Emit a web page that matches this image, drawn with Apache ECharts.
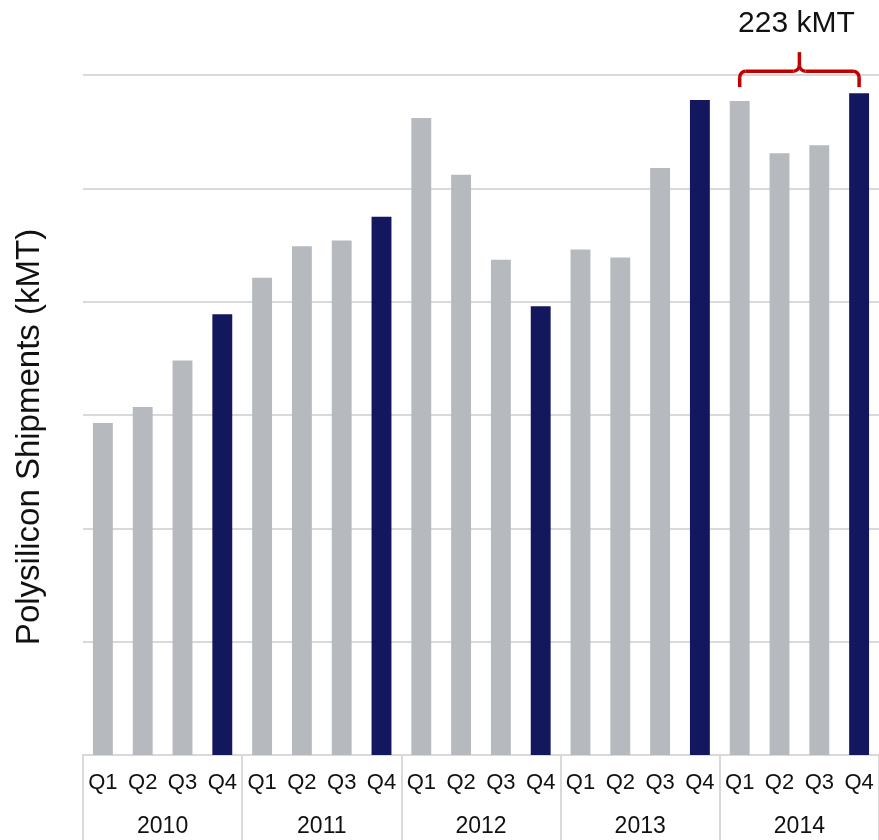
<!DOCTYPE html>
<html>
<head>
<meta charset="utf-8">
<script src="https://cdn.jsdelivr.net/npm/echarts@6/dist/echarts.min.js"></script>
<style>
  html, body { margin: 0; padding: 0; background: #ffffff; }
  #chart { width: 879px; height: 840px; }
</style>
</head>
<body>
<div id="chart"></div>
<script>
// Quarterly polysilicon shipments, kMT
const years = ['2010', '2011', '2012', '2013', '2014'];
const quarters = ['Q1', 'Q2', 'Q3', 'Q4'];
const shipments2010 = [29.3, 30.7, 34.8, 38.9];
const shipments2011 = [42.1, 44.9, 45.4, 47.5];
const shipments2012 = [56.2, 51.2, 43.7, 39.6];
const shipments2013 = [44.6, 43.9, 51.8, 57.8];
const shipments2014 = [57.7, 53.1, 53.8, 58.4];
const yMax = 60;
const yInterval = 10;
const bracketYear = '2014';
const bracketText = '223 kMT';

const FONT = '"Liberation Sans", Arial, Helvetica, sans-serif';
const GREY = '#b6babe';
const NAVY = '#13175d';
const RULE = '#d9d9d9';
const BRACE = '#c00000';

const perYear = [shipments2010, shipments2011, shipments2012, shipments2013, shipments2014];
const categories = [];
const values = [];
years.forEach((y, i) => {
  quarters.forEach((q, j) => {
    categories.push(y + '|' + q);
    values.push(perYear[i][j]);
  });
});

const chart = echarts.init(document.getElementById('chart'), null, { renderer: 'canvas' });

chart.setOption({
  animation: false,
  backgroundColor: '#ffffff',
  grid: { left: 83, top: 75, width: 800, height: 680 },
  xAxis: [
    {
      type: 'category',
      data: categories,
      position: 'bottom',
      axisLine: { show: true, lineStyle: { color: RULE, width: 2 } },
      axisTick: { show: false },
      axisLabel: {
        interval: 0,
        margin: 17,
        fontSize: 22,
        fontFamily: FONT,
        color: '#111111',
        formatter: v => v.split('|')[1]
      }
    },
    {
      type: 'category',
      data: years,
      position: 'bottom',
      axisLine: { show: false },
      axisTick: { show: true, length: 90, lineStyle: { color: RULE, width: 2 } },
      axisLabel: {
        interval: 0,
        margin: 60,
        fontSize: 23,
        fontFamily: FONT,
        color: '#111111'
      }
    }
  ],
  yAxis: {
    type: 'value',
    min: 0,
    max: yMax,
    interval: yInterval,
    axisLine: { show: false },
    axisTick: { show: false },
    axisLabel: { show: false },
    splitLine: { show: true, lineStyle: { color: RULE, width: 2 } }
  },
  series: [
    {
      type: 'bar',
      xAxisIndex: 0,
      data: values,
      barWidth: '50%',
      itemStyle: {
        color: p => (p.dataIndex % 4 === 3 ? NAVY : GREY)
      }
    }
  ]
});

// Curly brace over the highlighted year, with the year's total above it
function drawBrace() {
  const firstKey = bracketYear + '|' + quarters[0];
  const lastKey = bracketYear + '|' + quarters[quarters.length - 1];
  const xL = chart.convertToPixel({ xAxisIndex: 0 }, firstKey);
  const xR = chart.convertToPixel({ xAxisIndex: 0 }, lastKey);
  const yearVals = perYear[years.indexOf(bracketYear)];
  const top = chart.convertToPixel({ yAxisIndex: 0 }, Math.max.apply(null, yearVals));
  const xm = (xL + xR) / 2;
  const yb = top - 6;   // leg ends
  const yh = top - 22;  // horizontal run
  const yp = top - 41;  // centre point
  const r = 6;
  const stroke = { stroke: BRACE, lineWidth: 3.5, fill: null };
  const line = (x1, y1, x2, y2) => ({
    type: 'line', shape: { x1, y1, x2, y2 }, style: Object.assign({}, stroke)
  });
  const arc = (cx, cy, a0, a1) => ({
    type: 'arc', shape: { cx, cy, r, startAngle: a0, endAngle: a1, clockwise: true },
    style: Object.assign({}, stroke)
  });
  const PI = Math.PI;

  chart.setOption({
    graphic: [
      line(xL, yb, xL, yh + r),
      arc(xL + r, yh + r, PI, 1.5 * PI),
      line(xL + r, yh, xm - r, yh),
      arc(xm - r, yh - r, 0, 0.5 * PI),
      line(xm, yh - r, xm, yp),
      arc(xm + r, yh - r, 0.5 * PI, PI),
      line(xm + r, yh, xR - r, yh),
      arc(xR - r, yh + r, 1.5 * PI, 2 * PI),
      line(xR, yh + r, xR, yb),
      {
        type: 'text',
        x: xm - 3,
        y: top - 69,
        style: {
          text: bracketText,
          font: '30px ' + FONT,
          fill: '#111111',
          align: 'center',
          verticalAlign: 'middle'
        }
      },
      {
        type: 'text',
        x: 30,
        y: 437,
        rotation: PI / 2,
        style: {
          text: 'Polysilicon Shipments (kMT)',
          font: '33px ' + FONT,
          fill: '#111111',
          align: 'center',
          verticalAlign: 'middle'
        }
      }
    ]
  });
}
drawBrace();
</script>
</body>
</html>
